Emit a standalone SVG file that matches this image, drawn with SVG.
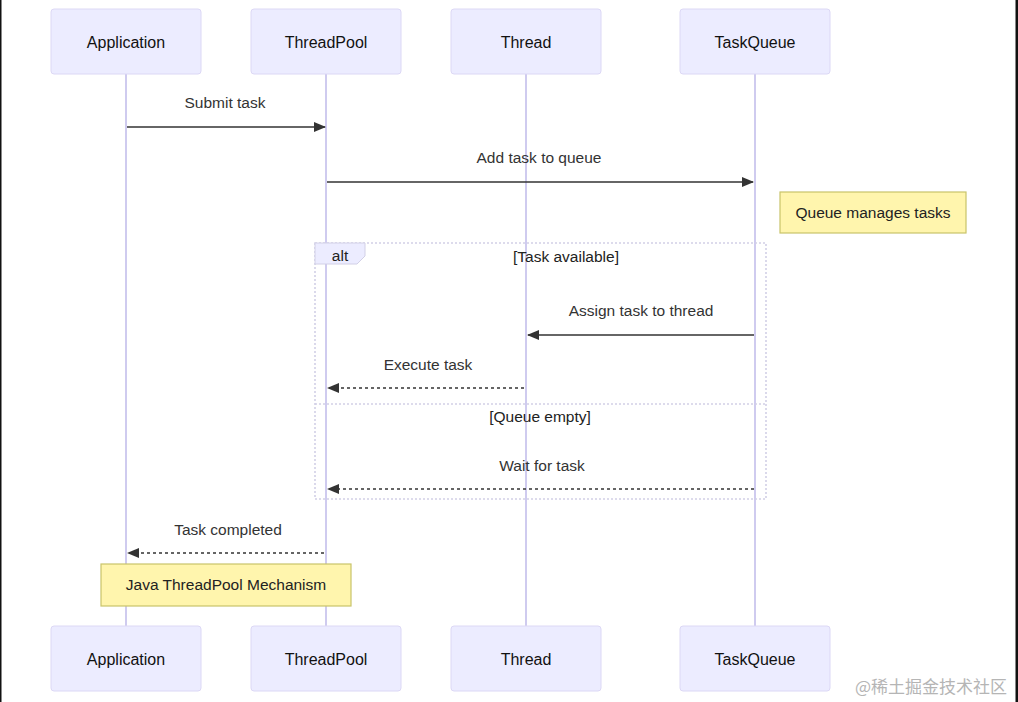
<svg xmlns="http://www.w3.org/2000/svg" width="1018" height="702" viewBox="0 0 1018 702">
<style>
.actor{fill:#ECECFF;stroke:#DCD8F5;stroke-width:1}
.atext{font-family:"Liberation Sans",Arial,sans-serif;font-size:16px;fill:#111;text-anchor:middle;dominant-baseline:central}
.life{stroke:#CFCBEF;stroke-width:2}
.msg{stroke:#333;stroke-width:1.6;fill:none}
.dash{stroke-dasharray:3,3}
.mtext{font-family:"Liberation Sans",Arial,sans-serif;font-size:15.5px;fill:#333;text-anchor:middle}
.note{fill:#FFF5AD;stroke:#C9C46A;stroke-width:1.2}
.ntext{font-family:"Liberation Sans",Arial,sans-serif;font-size:15.5px;fill:#222;text-anchor:middle;dominant-baseline:central}
.loop{fill:none;stroke:#D2D0E6;stroke-width:1.6;stroke-dasharray:2,2}
</style>
<defs>
<marker id="ah" viewBox="0 0 12 10" refX="11" refY="5" markerWidth="12" markerHeight="10" markerUnits="userSpaceOnUse" orient="auto">
<path d="M0,0 L12,5 L0,10 z" fill="#333"/>
</marker>
</defs>
<rect width="1018" height="702" fill="#fff"/>
<rect x="0" y="0" width="1.5" height="702" fill="#111"/>
<rect x="1015.5" y="0" width="2.5" height="702" fill="#111"/>
<g id="lifelines">
<line class="life" x1="126" y1="74" x2="126" y2="626"/>
<line class="life" x1="326" y1="74" x2="326" y2="626"/>
<line class="life" x1="526" y1="74" x2="526" y2="626"/>
<line class="life" x1="755" y1="74" x2="755" y2="626"/>
</g>
<g id="actor-application-top"><rect class="actor" x="51" y="9" width="150" height="65" rx="3"/><text class="atext" x="126" y="42">Application</text></g>
<g id="actor-threadpool-top"><rect class="actor" x="251" y="9" width="150" height="65" rx="3"/><text class="atext" x="326" y="42">ThreadPool</text></g>
<g id="actor-thread-top"><rect class="actor" x="451" y="9" width="150" height="65" rx="3"/><text class="atext" x="526" y="42">Thread</text></g>
<g id="actor-taskqueue-top"><rect class="actor" x="680" y="9" width="150" height="65" rx="3"/><text class="atext" x="755" y="42">TaskQueue</text></g>
<g id="actor-application-bottom"><rect class="actor" x="51" y="626" width="150" height="65" rx="3"/><text class="atext" x="126" y="659">Application</text></g>
<g id="actor-threadpool-bottom"><rect class="actor" x="251" y="626" width="150" height="65" rx="3"/><text class="atext" x="326" y="659">ThreadPool</text></g>
<g id="actor-thread-bottom"><rect class="actor" x="451" y="626" width="150" height="65" rx="3"/><text class="atext" x="526" y="659">Thread</text></g>
<g id="actor-taskqueue-bottom"><rect class="actor" x="680" y="626" width="150" height="65" rx="3"/><text class="atext" x="755" y="659">TaskQueue</text></g>
<g id="alt-frame">
<rect class="loop" x="315" y="243" width="451" height="256"/>
<line class="loop" x1="315" y1="404" x2="766" y2="404"/>
<polygon points="315,243 365,243 365,256 357,264 315,264" fill="#ECECFF" stroke="#D2D0E6" stroke-width="1"/>
<text class="ntext" x="340" y="255" style="fill:#222">alt</text>
<text class="ntext" x="566" y="256">[Task available]</text>
<text class="ntext" x="540" y="416">[Queue empty]</text>
</g>
<g id="note-queue"><rect class="note" x="780" y="192" width="186" height="41"/><text class="ntext" x="873" y="212">Queue manages tasks</text></g>
<g id="note-java"><rect class="note" x="101" y="564" width="250" height="42"/><text class="ntext" x="226" y="584">Java ThreadPool Mechanism</text></g>
<g id="connectors">
<line class="msg" x1="127" y1="127" x2="325" y2="127" marker-end="url(#ah)"/>
<text class="mtext" x="225" y="108">Submit task</text>
<line class="msg" x1="327" y1="182" x2="753" y2="182" marker-end="url(#ah)"/>
<text class="mtext" x="539" y="163">Add task to queue</text>
<line class="msg" x1="754" y1="335" x2="528" y2="335" marker-end="url(#ah)"/>
<text class="mtext" x="641" y="316">Assign task to thread</text>
<line class="msg dash" x1="524" y1="388" x2="328" y2="388" marker-end="url(#ah)"/>
<text class="mtext" x="428" y="370">Execute task</text>
<line class="msg dash" x1="754" y1="489" x2="328" y2="489" marker-end="url(#ah)"/>
<text class="mtext" x="542" y="471">Wait for task</text>
<line class="msg dash" x1="324" y1="553" x2="128" y2="553" marker-end="url(#ah)"/>
<text class="mtext" x="228" y="535">Task completed</text>
</g>
<text x="1007" y="693" style="font-family:'Noto Sans CJK SC',sans-serif;font-size:17px;fill:#B5B5B5;text-anchor:end">@稀土掘金技术社区</text>
</svg>
